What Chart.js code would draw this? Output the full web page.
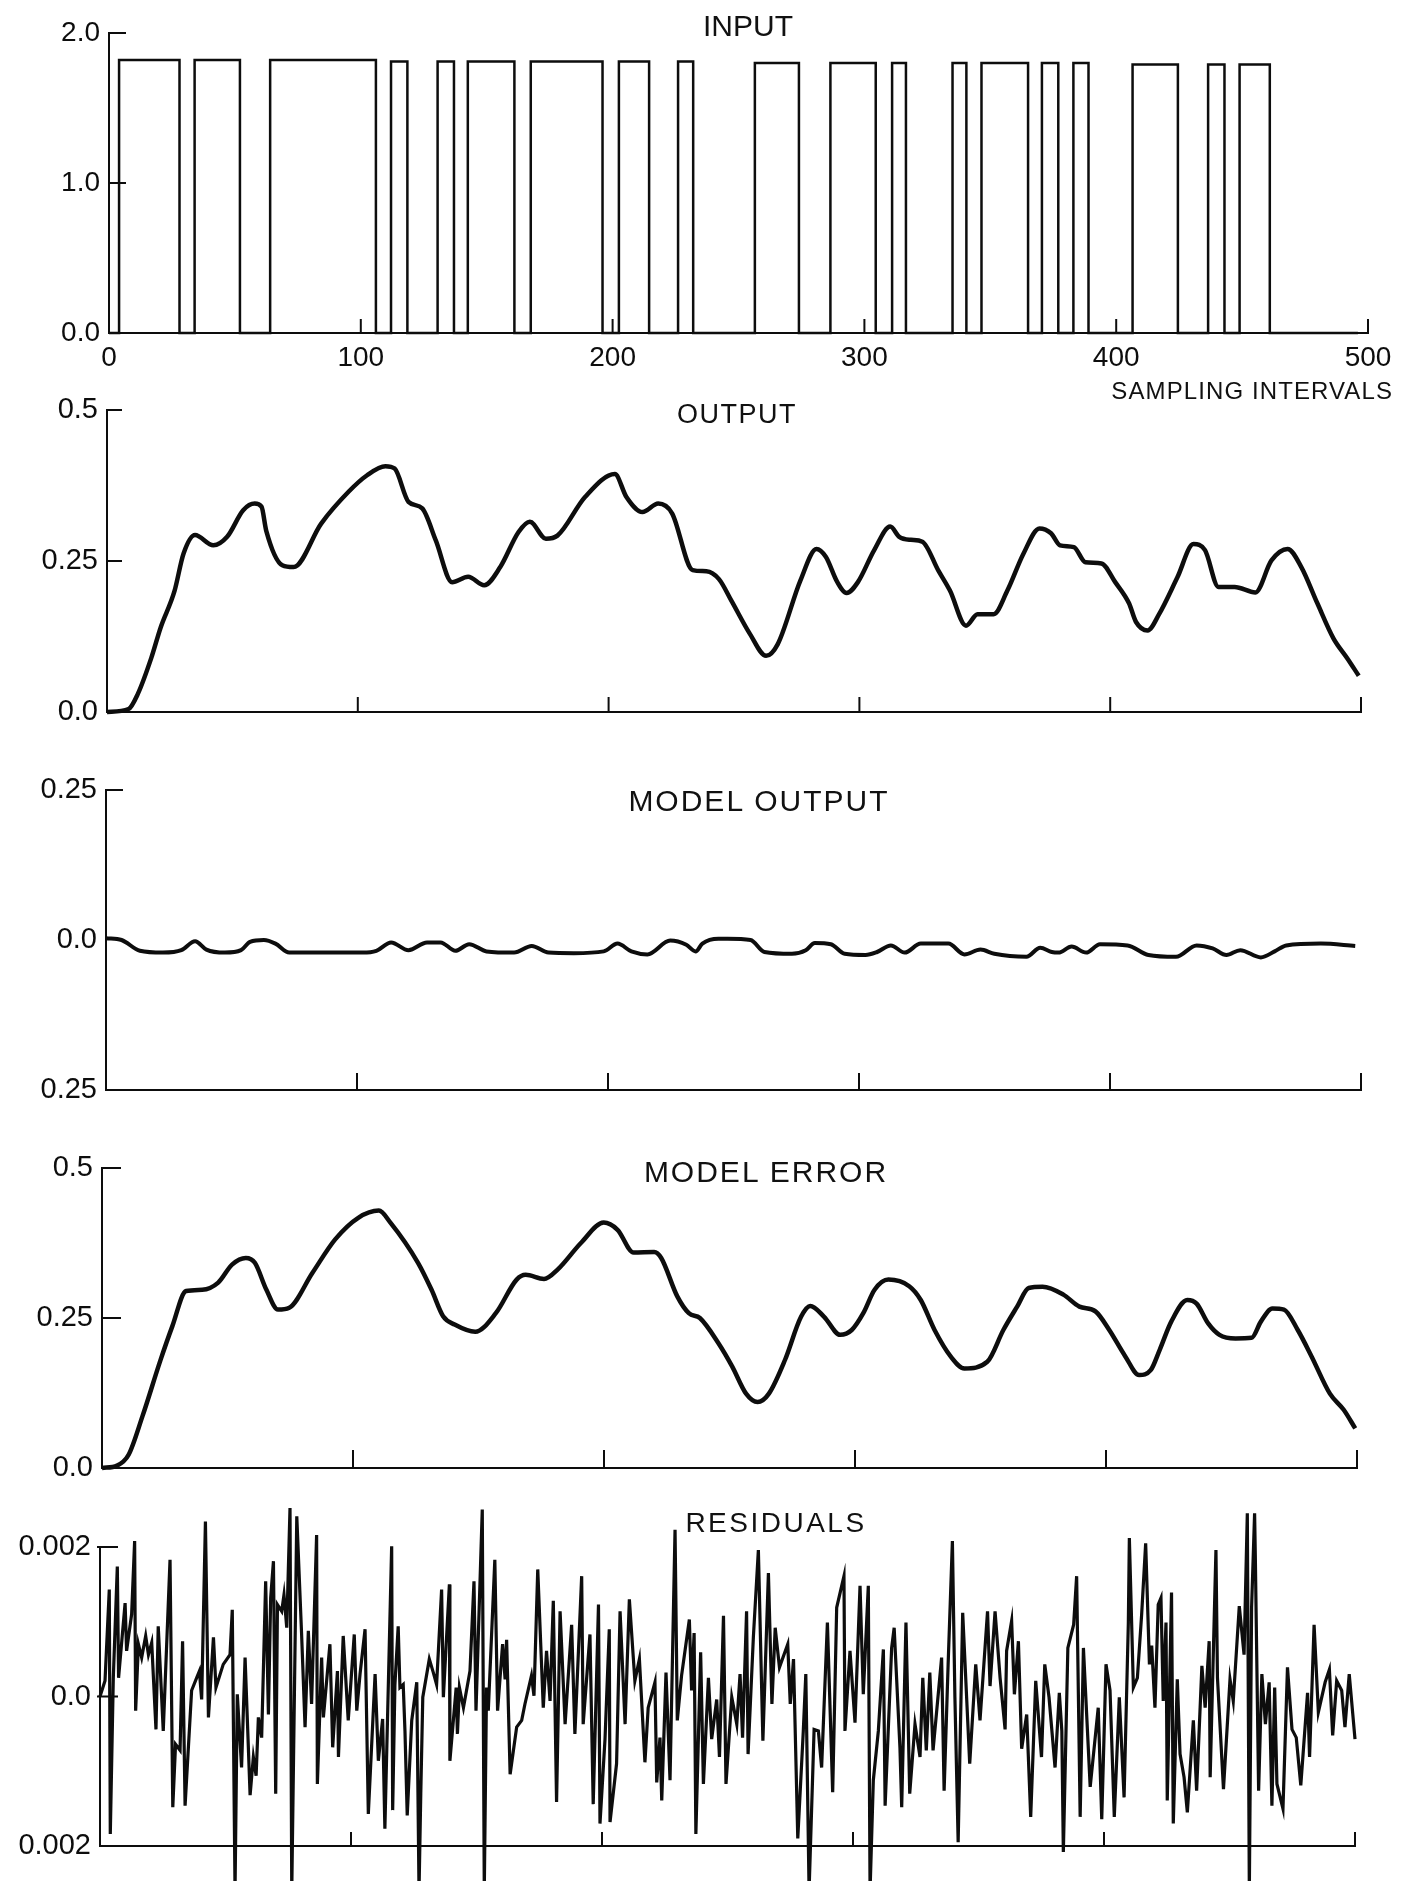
<!DOCTYPE html>
<html>
<head>
<meta charset="utf-8">
<script src="https://cdn.jsdelivr.net/npm/chart.js@4.4.0/dist/chart.umd.min.js"></script>
<style>
body { margin:0; background:#fff; width:1421px; height:1881px; position:relative; overflow:hidden; }
canvas { position:absolute; left:0; }
.lbl { position:absolute; font-family:"Liberation Sans", Arial, sans-serif; color:#111; white-space:nowrap; line-height:1; }
.mid { transform:translateX(-50%); }
</style>
</head>
<body>
<canvas id="c1" width="1421" height="420" style="top:0px"></canvas>
<canvas id="c2" width="1421" height="345" style="top:380px"></canvas>
<canvas id="c3" width="1421" height="345" style="top:760px"></canvas>
<canvas id="c4" width="1421" height="345" style="top:1140px"></canvas>
<canvas id="c5" width="1421" height="401" style="top:1480px"></canvas>

<div class="lbl mid" style="left:748px; top:11px; font-size:30px;">INPUT</div>
<div class="lbl" style="right:28px; top:379px; font-size:24px; letter-spacing:1.1px;">SAMPLING INTERVALS</div>
<div class="lbl mid" style="left:737px; top:401px; font-size:27px; letter-spacing:1.5px;">OUTPUT</div>
<div class="lbl mid" style="left:759px; top:786px; font-size:30px; letter-spacing:2px;">MODEL OUTPUT</div>
<div class="lbl mid" style="left:766px; top:1157px; font-size:30px; letter-spacing:2px;">MODEL ERROR</div>
<div class="lbl mid" style="left:776px; top:1509px; font-size:28px; letter-spacing:2.5px;">RESIDUALS</div>

<script>
// sampling intervals on x, shared by all panels
var xTicks = [0, 100, 200, 300, 400, 500];
var xMarks = [100, 200, 300, 400, 500];

// INPUT: switching instants and level after each switch
var inputT = [0, 4, 28, 34, 52, 64, 106, 112, 118.5, 130.5, 137, 142.5, 161, 167.5, 196, 202.5, 214.5, 226, 232, 256.5,
    274, 286.5, 304.5, 311, 316.5, 335, 340.5, 346.5, 365, 370.5, 377, 383, 389, 406.5, 424.5, 436.5, 443, 449, 461, 496];
var inputV = [0, 1.82, 0, 1.82, 0, 1.82, 0, 1.81, 0, 1.81, 0, 1.81, 0, 1.81, 0, 1.81, 0, 1.81, 0, 1.80,
    0, 1.80, 0, 1.80, 0, 1.80, 0, 1.80, 0, 1.80, 0, 1.80, 0, 1.79, 0, 1.79, 0, 1.79, 0, 0];

// OUTPUT
var outT = [0, 8.6, 12.3, 17.7, 21.4, 26.9, 30.5, 35.1, 42.4, 47.9, 54.3, 58.9, 61.6, 63.5, 69.9, 74.4, 85.4, 96.4, 103.7, 111,
    114.7, 120.2, 125.7, 131.1, 137.6, 144, 150.4, 156.8, 164.1, 168.6, 175, 179.6, 190.6, 202.5, 207.1, 213.5, 219.8, 225.3, 233.5, 239,
    244, 249, 256.4, 262.8, 267.4, 276.5, 282.9, 286.6, 291.2, 294.9, 299.4, 305.9, 312.3, 315.9, 320.5, 325.1, 331.5, 336.1, 342.5, 347.1,
    353.5, 359, 365.4, 371.8, 376.4, 380, 385.5, 390.1, 396.5, 402, 407.5, 410.3, 414.9, 419.5, 426.8, 433.2, 437.8, 443.2, 449.6, 457.9,
    464.3, 470.7, 476.2, 482.6, 489, 494.5, 499.1];
var outV = [0, 0.005, 0.03, 0.09, 0.14, 0.20, 0.262, 0.293, 0.276, 0.29, 0.334, 0.345, 0.34, 0.30, 0.243, 0.24, 0.312, 0.365, 0.392, 0.407,
    0.403, 0.348, 0.337, 0.284, 0.215, 0.224, 0.21, 0.24, 0.298, 0.315, 0.287, 0.292, 0.356, 0.394, 0.356, 0.331, 0.345, 0.329, 0.235, 0.233,
    0.22, 0.184, 0.129, 0.093, 0.112, 0.218, 0.270, 0.257, 0.215, 0.197, 0.215, 0.268, 0.307, 0.290, 0.285, 0.282, 0.234, 0.201, 0.143, 0.162,
    0.162, 0.201, 0.262, 0.304, 0.296, 0.276, 0.273, 0.248, 0.246, 0.215, 0.180, 0.149, 0.135, 0.162, 0.223, 0.278, 0.268, 0.207, 0.207, 0.198,
    0.251, 0.270, 0.240, 0.180, 0.122, 0.089, 0.060];

// MODEL OUTPUT
var modT = [0, 6.2, 13.5, 22.7, 30, 35.5, 40, 47.4, 53.8, 57.4, 62.9, 67.5, 73, 85.8, 102.3, 107.7, 113.6, 120.5, 127.9, 133.3,
    139.2, 144.7, 151.6, 162.6, 169.6, 176.3, 186.4, 198.3, 203.8, 209.3, 215.7, 224.8, 231.2, 234.9, 237.6, 244, 247.6, 256.8, 262.3, 273.3,
    278.8, 282.4, 288.8, 294.3, 302.6, 307.2, 312.7, 318.2, 324.6, 335.6, 342, 348.4, 353.9, 366.7, 372.2, 376.8, 379.5, 384.7, 390.5, 396,
    407, 415.3, 426.3, 434.5, 440.9, 446.4, 451.9, 460.1, 465.6, 470.2, 484, 497.7];
var modV = [0.003, 0, -0.018, -0.021, -0.017, -0.002, -0.016, -0.021, -0.017, -0.003, 0, -0.006, -0.021, -0.021, -0.021, -0.018, -0.004, -0.017, -0.004, -0.004,
    -0.018, -0.007, -0.019, -0.021, -0.010, -0.021, -0.022, -0.019, -0.006, -0.019, -0.024, -0.001, -0.008, -0.019, -0.006, 0.002, 0.002, 0, -0.020, -0.023,
    -0.017, -0.005, -0.007, -0.023, -0.025, -0.020, -0.009, -0.021, -0.006, -0.006, -0.024, -0.016, -0.023, -0.028, -0.013, -0.020, -0.021, -0.011, -0.021, -0.007,
    -0.009, -0.025, -0.028, -0.009, -0.014, -0.025, -0.017, -0.029, -0.019, -0.009, -0.006, -0.010];

// MODEL ERROR
var errT = [0, 6, 10.6, 16.1, 23.4, 28, 33.5, 39.9, 46.3, 51.8, 57.3, 60.9, 65.5, 70.1, 74.6, 83.8, 92.9, 102.1, 110.3, 114.9,
    125.9, 131.3, 135.9, 140.5, 148.7, 156.9, 165.2, 168.8, 176.1, 181.6, 190.8, 199.9, 205.4, 211.8, 220, 222.8, 229.2, 233.8, 238.2, 245.6,
    251.1, 256.6, 261.2, 265.7, 272.1, 278.5, 282.2, 287.7, 294.1, 298.7, 303.3, 307.8, 313.3, 321.6, 326.2, 331.7, 338.1, 343.6, 352.7, 359.1,
    364.6, 369.2, 374.7, 383, 389.4, 395.8, 401.3, 407.7, 413.2, 417.8, 421.4, 426, 432.4, 436.1, 440.7, 445.2, 451.6, 458, 461.7, 466.3,
    470.9, 476.4, 481.9, 489.2, 494.7, 499.3];
var errV = [0, 0.004, 0.022, 0.086, 0.181, 0.236, 0.295, 0.297, 0.309, 0.339, 0.350, 0.342, 0.297, 0.264, 0.267, 0.325, 0.381, 0.417, 0.429, 0.409,
    0.342, 0.297, 0.253, 0.239, 0.227, 0.258, 0.314, 0.322, 0.315, 0.331, 0.375, 0.409, 0.397, 0.359, 0.36, 0.350, 0.286, 0.258, 0.250, 0.208,
    0.169, 0.124, 0.110, 0.124, 0.180, 0.252, 0.270, 0.252, 0.222, 0.230, 0.258, 0.297, 0.314, 0.303, 0.280, 0.230, 0.186, 0.166, 0.177, 0.230,
    0.269, 0.300, 0.302, 0.289, 0.269, 0.261, 0.230, 0.186, 0.155, 0.163, 0.197, 0.244, 0.280, 0.274, 0.241, 0.222, 0.216, 0.217, 0.244, 0.266,
    0.264, 0.230, 0.186, 0.124, 0.097, 0.066];

// RESIDUALS, values in units of 0.001
var resT = [0, 2, 3.7, 4.1, 5.3, 6.9, 7.4, 10, 10.6, 12.6, 13.8, 14.2, 15.3, 16.6, 18.2, 19.3, 20.6, 22.3, 23.2, 25.2,
    27.9, 29, 30.1, 31.9, 32.9, 33.9, 36.5, 38.5, 39.6, 40.5, 42, 43.2, 45.2, 46.2, 49.1, 51.8, 52.7, 53.8, 54.7, 56.4,
    57.8, 59.8, 61.1, 62.2, 63.1, 64.4, 66, 67.1, 68, 69.1, 70, 70.7, 72.4, 73.3, 74.4, 75.7, 76.4, 78.4, 80.3, 81.7,
    83, 84.3, 86.3, 86.6, 88.3, 89, 91.6, 92.7, 94.6, 95, 96.9, 98.9, 101.3, 102.3, 103.6, 105.6, 106.9, 109.6, 110.9, 112.6,
    113.5, 116.2, 116.6, 117.5, 118.8, 119.5, 120.8, 121.5, 122.4, 124.2, 126.2, 127.1, 127.8, 128.6, 131.2, 132.8, 134.1, 136.1, 136.8, 139.2,
    139.4, 141.9, 142.4, 143.2, 144.8, 147.4, 149, 149.8, 150.7, 152.3, 153.1, 154, 154.7, 157.3, 158.4, 160.4, 161.4, 162, 163.4, 166,
    168, 169.3, 171.9, 172.9, 174.4, 176.6, 177.9, 179.3, 180.6, 181.9, 183.3, 185.3, 187.9, 189.2, 191.9, 192.5, 195.2, 196.5, 198.6, 199.2,
    201.2, 202.9, 203.2, 205.8, 207.2, 209.2, 210.9, 213.1, 214.9, 217.1, 218.4, 221.1, 221.8, 223.1, 223.8, 225.5, 227.1, 229.1, 230, 231.7,
    234.8, 235.7, 236.7, 237.4, 239.3, 240.4, 242.4, 243.7, 245.7, 246.8, 248.4, 249.4, 251.7, 253.7, 255, 256, 257.6, 258.2, 260.3, 262.3,
    264.1, 266.3, 267.7, 269, 270.7, 274, 275, 276.3, 278, 280.2, 281.2, 282.5, 284.5, 286.2, 287.5, 289.8, 291.9, 293.5, 296.4, 296.8,
    298.8, 300.8, 302.8, 304.1, 306.1, 306.8, 308.1, 310.1, 312.1, 312.8, 315.4, 316.4, 318.7, 319.4, 321.1, 322.6, 324.7, 326.7, 327.8, 329.2,
    330.6, 331.9, 335.3, 336.3, 337.9, 339.6, 340.6, 341.9, 343.7, 346.5, 348.9, 350.6, 353.6, 354.6, 356.6, 358.6, 360.6, 361.2, 363.2, 364.3,
    365.9, 367.2, 369.2, 370.8, 372.8, 375.1, 376.4, 378.1, 380.5, 382.2, 383.2, 383.8, 385.6, 387.9, 389.1, 390.5, 391.8, 394.5, 397.7, 399.1,
    400.8, 402.4, 404.1, 406.1, 408, 409.7, 410.1, 411.7, 413.3, 415, 416.6, 418.1, 419, 420.3, 421.6, 422.7, 423.6, 424.7, 425.2, 426.9,
    427.6, 429.2, 430.3, 431.9, 433.2, 435.6, 436.9, 439, 440.3, 441.9, 442.3, 444.6, 445.2, 447.6, 450.2, 451.5, 453.9, 455.8, 457.1, 457.9,
    458.8, 460, 460.3, 461.6, 462.9, 464.3, 465.8, 466.9, 468, 468.9, 471.3, 473.1, 474.9, 476.6, 478.4, 481.1, 481.9, 483.7, 485.4, 488.1,
    489.8, 491.1, 492.7, 494.7, 496, 497.7, 500];
var resE3 = [0, 0.21, 1.43, -1.84, 0.25, 1.74, 0.25, 1.25, 0.61, 1.10, 2.08, -0.19, 0.70, 0.52, 0.81, 0.56, 0.72, -0.44, 0.94, -0.46,
    1.83, -1.48, -0.64, -0.72, 0.74, -1.46, 0.08, 0.25, 0.34, -0.04, 2.34, -0.28, 0.79, 0.12, 0.43, 0.56, 1.16, -2.6, 0.03, -0.95,
    0.52, -1.32, -0.81, -1.06, -0.28, -0.55, 1.54, -0.24, 1.32, 1.81, -1.30, 1.23, 1.14, 1.36, 0.92, 2.52, -2.6, 2.41, 0.85, -0.41,
    0.88, -0.10, 2.16, -1.17, 0.52, -0.28, 0.70, -0.68, 0.34, -0.81, 0.81, -0.32, 0.83, -0.19, 0.30, 0.90, -1.57, 0.30, -0.86, -0.30,
    -1.77, 2.01, -1.52, 0.16, 0.94, 0.12, 0.16, -0.46, -1.59, -0.32, 0.19, -2.6, -1.30, -0.01, 0.50, 0.32, 0.16, 1.43, -0.01, 1.50,
    -0.86, 0.12, -0.50, 0.12, -0.15, 0.34, 1.54, -0.19, 0.79, 2.50, -2.6, 0.12, -0.19, 1.83, -0.19, 0.70, 0.23, 0.76, -1.04, -0.41,
    -0.32, -0.10, 0.28, 0.01, 1.70, -0.15, 0.61, -0.06, 1.28, -1.41, 1.14, -0.37, 0.96, -0.50, 1.61, -0.37, 0.83, -1.44, 1.23, -1.70,
    -0.57, 0.90, -1.68, -0.90, 1.14, -0.37, 1.30, 0.21, 0.50, -0.88, -0.15, 0.19, -1.15, -0.55, -1.39, 0.32, -1.12, 2.23, -0.32, 0.28,
    1.03, 0.08, 0.85, -1.84, 0.59, -1.17, 0.25, -0.57, -0.04, -0.81, 1.08, -1.17, -0.01, -0.37, 0.30, -0.55, 1.14, -0.77, 0.79, 1.96,
    -0.59, 1.65, -0.10, 0.92, 0.39, 0.70, -0.10, 0.50, -1.90, -0.46, 0.30, -2.6, -0.44, -0.46, -0.95, 0.99, -1.28, 1.19, 1.61, -0.46,
    0.61, -0.35, 1.48, 0.03, 1.48, -2.6, -1.12, -0.46, 0.63, -1.46, 0.65, 0.92, -0.68, -1.48, 0.99, -1.30, -0.37, -0.81, 0.25, -0.72,
    0.32, -0.72, 0.52, -1.26, 0.43, 2.08, -0.01, -1.95, 1.12, -0.90, 0.43, -0.32, 1.14, 0.14, 1.14, 0.25, -0.44, 0.61, 1.01, 0.03,
    0.74, -0.70, -0.24, -1.61, 0.21, -0.81, 0.43, -0.01, -0.95, 0.05, -0.46, -2.08, 0.65, 0.96, 1.61, -1.61, 0.65, -1.21, -0.15, -1.64,
    0.43, 0.08, -1.61, -0.01, -1.35, 0.99, 2.12, 0.12, 0.25, 1.10, 2.05, 0.43, 0.68, -0.15, 1.23, 1.32, -0.06, 0.99, -1.39, 1.39,
    -1.70, 0.23, -0.77, -1.08, -1.55, -0.32, -1.26, 0.41, -0.15, 0.74, -1.08, 1.96, 0.25, -1.24, 0.23, -0.06, 1.21, 0.56, 2.45, -2.6,
    1.19, 2.45, 1.85, -1.26, 0.30, -0.37, 0.19, -1.46, 0.12, -1.17, -1.50, 0.39, -0.44, -0.55, -1.19, 0.05, -0.81, 0.96, -0.21, 0.19,
    0.36, -0.52, 0.21, 0.08, -0.41, 0.30, -0.57];

var ink = '#0d0d0d';
Chart.defaults.font.family = '"Liberation Sans", Arial, sans-serif';
Chart.defaults.color = ink;

function pts(t, v, k) {
    var arr = [];
    for (let i = 0; i < t.length; i++) {
        arr.push({x: t[i], y: v[i] * (k || 1)});
    }
    return arr;
}

// scales keep their label overhang out of the layout, so the plot box is exactly where we put it
function noOverhang(s) {
    s.paddingTop = 0; s.paddingBottom = 0; s.paddingLeft = 0; s.paddingRight = 0;
}

function panel(id, p) {
    // short tick marks drawn inward from the axes, like the original plot
    var inTicks = {
        id: 'inTicks',
        afterDraw: function (chart) {
            var ctx = chart.ctx, a = chart.chartArea;
            ctx.save();
            ctx.strokeStyle = ink;
            ctx.lineWidth = 2;
            p.xMarks.forEach(function (v) {
                var px = chart.scales.x.getPixelForValue(v);
                ctx.beginPath();
                ctx.moveTo(px, a.bottom);
                ctx.lineTo(px, a.bottom - p.xLen);
                ctx.stroke();
            });
            p.yMarks.forEach(function (v) {
                var py = chart.scales.y.getPixelForValue(v);
                ctx.beginPath();
                ctx.moveTo(a.left - (p.cross || 0), py);
                ctx.lineTo(a.left + p.yLen, py);
                ctx.stroke();
            });
            ctx.restore();
        }
    };
    return new Chart(document.getElementById(id), {
        type: 'line',
        data: {
            datasets: [{
                data: p.data,
                borderColor: ink,
                borderWidth: p.lw,
                pointRadius: 0,
                fill: false,
                stepped: p.stepped || false,
                cubicInterpolationMode: p.smooth ? 'monotone' : 'default',
                tension: 0,
                clip: p.clip === undefined ? 3 : p.clip
            }]
        },
        options: {
            responsive: false,
            animation: false,
            events: [],
            layout: {autoPadding: false, padding: {top: p.top, right: p.right, bottom: 0, left: 0}},
            plugins: {legend: {display: false}, tooltip: {enabled: false}},
            scales: {
                x: {
                    type: 'linear', min: 0, max: 500,
                    grid: {display: false, drawTicks: false},
                    border: {display: true, color: ink, width: 2},
                    afterBuildTicks: function (s) { s.ticks = xTicks.map(function (v) { return {value: v}; }); },
                    ticks: {display: !!p.xLabels, padding: 8, maxRotation: 0, autoSkip: false, font: {size: 28}},
                    afterFit: function (s) { s.height = p.xh; noOverhang(s); }
                },
                y: {
                    min: p.yTicks[0], max: p.yTicks[p.yTicks.length - 1],
                    grid: {display: false, drawTicks: false},
                    border: {display: true, color: ink, width: 2},
                    afterBuildTicks: function (s) { s.ticks = p.yTicks.map(function (v) { return {value: v}; }); },
                    ticks: {padding: 9, font: {size: p.fs}, callback: function (v, i) { return p.yLabels[i]; }},
                    afterFit: function (s) { s.width = p.yw; noOverhang(s); }
                }
            }
        },
        plugins: [inTicks]
    });
}

panel('c1', {data: pts(inputT, inputV), lw: 2.5, stepped: 'before', top: 33, right: 53, xh: 87, yw: 109, fs: 28,
    xLabels: true, yTicks: [0, 1, 2], yLabels: ['0.0', '1.0', '2.0'], yMarks: [1, 2], yLen: 17, xMarks: xMarks, xLen: 14});

panel('c2', {data: pts(outT, outV), lw: 4.5, smooth: true, top: 30, right: 60, xh: 13, yw: 107, fs: 29,
    yTicks: [0, 0.25, 0.5], yLabels: ['0.0', '0.25', '0.5'], yMarks: [0.25, 0.5], yLen: 15, xMarks: xMarks, xLen: 15});

panel('c3', {data: pts(modT, modV), lw: 4, smooth: true, top: 30, right: 60, xh: 15, yw: 106, fs: 29,
    yTicks: [-0.25, 0, 0.25], yLabels: ['0.25', '0.0', '0.25'], yMarks: [0.25], yLen: 17, xMarks: xMarks, xLen: 17});

panel('c4', {data: pts(errT, errV), lw: 4.5, smooth: true, top: 28, right: 64, xh: 17, yw: 102, fs: 29,
    yTicks: [0, 0.25, 0.5], yLabels: ['0.0', '0.25', '0.5'], yMarks: [0.25, 0.5], yLen: 19, xMarks: xMarks, xLen: 18});

panel('c5', {data: pts(resT, resE3, 0.001), lw: 3.2, clip: false, top: 67, right: 66, xh: 35, yw: 100, fs: 29,
    yTicks: [-0.002, 0, 0.002], yLabels: ['0.002', '0.0', '0.002'], yMarks: [0, 0.002], yLen: 18, cross: 3,
    xMarks: xMarks, xLen: 14});
</script>
</body>
</html>
